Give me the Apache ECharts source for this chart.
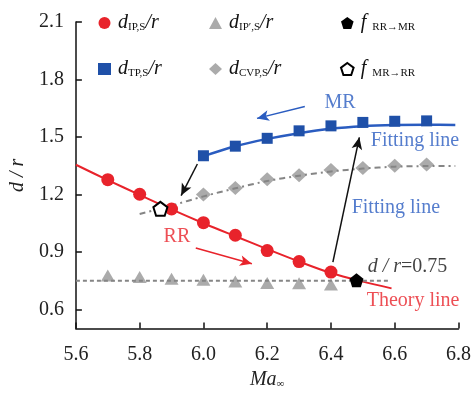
<!DOCTYPE html>
<html>
<head>
<meta charset="utf-8">
<script src="https://cdn.jsdelivr.net/npm/echarts@6/dist/echarts.min.js"></script>
<style>
  html, body { margin: 0; padding: 0; background: #fff; }
  #chart { width: 474px; height: 395px; }
</style>
</head>
<body>
<div id="chart"></div>
<script>
// Mach numbers and normalised distances d/r
const maIP = [5.7, 5.8, 5.9, 6.0, 6.1, 6.2, 6.3, 6.4];
const dIP = [1.277, 1.201, 1.124, 1.053, 0.987, 0.907, 0.850, 0.795];
const dIPp = [0.777, 0.769, 0.760, 0.755, 0.746, 0.738, 0.737, 0.730];

const maTP = [6.0, 6.1, 6.2, 6.3, 6.4, 6.5, 6.6, 6.7];
const dTP = [1.402, 1.452, 1.493, 1.532, 1.558, 1.576, 1.582, 1.584];
const dCVP = [1.200, 1.234, 1.280, 1.300, 1.328, 1.338, 1.350, 1.357];

// transition points
const fRR = [6.48, 0.752];
const fMR = [5.865, 1.125];

// theory line for d_IP,S / r
const theoryMa = [5.6, 5.7, 5.8, 5.9, 6.0, 6.1, 6.2, 6.3, 6.4, 6.5, 6.59];
const theoryD = [1.355, 1.275, 1.198, 1.122, 1.05, 0.982, 0.915, 0.85, 0.79, 0.745, 0.71];

// fitting lines
const fitTPma = [6.0, 6.1, 6.2, 6.3, 6.4, 6.5, 6.6, 6.7, 6.79];
const fitTPd = [1.40, 1.452, 1.49, 1.52, 1.543, 1.556, 1.562, 1.564, 1.563];
const fitCVPma = [5.8, 5.9, 6.0, 6.1, 6.2, 6.3, 6.4, 6.5, 6.6, 6.7, 6.79];
const fitCVPd = [1.098, 1.142, 1.19, 1.232, 1.27, 1.298, 1.32, 1.335, 1.345, 1.348, 1.348];

// d/r = 0.75 reference
const refMa = [5.6, 6.58];
const refD = 0.75;

const yTicks = [0.6, 0.9, 1.2, 1.5, 1.8, 2.1];

const RED = '#e8232b';
const BLUE = '#1f50a8';
const BLUE_LINE = '#2a5cc0';
const GREY = '#ababab';
const GREY_LINE = '#858585';
const SERIF = '"Liberation Serif", "Times New Roman", serif';

const zip = (xs, ys) => xs.map((x, i) => [x, ys[i]]);
const pentagon = 'path://M0,-10L9.51,-3.09L5.88,8.09L-5.88,8.09L-9.51,-3.09Z';

const legendRich = {
  i: { fontFamily: SERIF, fontStyle: 'italic', fontSize: 20, color: '#111', lineHeight: 22 },
  s: { fontFamily: SERIF, fontSize: 11, color: '#111', padding: [9, 0, 0, 0], lineHeight: 22 },
  g: { fontFamily: SERIF, fontSize: 11, color: '#111', padding: [9, 0, 0, 6], lineHeight: 22 }
};
const legendText = {
  'IP': '{i|d}{s|IP,S}{i|/r}',
  'IPp': '{i|d}{s|IP′,S}{i|/r}',
  'TP': '{i|d}{s|TP,S}{i|/r}',
  'CVP': '{i|d}{s|CVP,S}{i|/r}',
  'fRR': '{i|f}{g|RR→MR}',
  'fMR': '{i|f}{g|MR→RR}'
};
function legendAt(left, names) {
  return {
    left: left, top: 8, orient: 'vertical', itemGap: 26,
    itemWidth: 13, itemHeight: 12, selectedMode: false,
    data: names,
    formatter: n => legendText[n],
    textStyle: { rich: legendRich, padding: [0, 0, 0, 2] }
  };
}

const notes = [
  { value: [6.38, 1.677], text: '{b|MR}' },
  { value: [6.525, 1.48], text: '{b|Fitting line}' },
  { value: [6.465, 1.133], text: '{b|Fitting line}' },
  { value: [5.875, 0.977], text: '{r|RR}' },
  { value: [6.515, 0.822], text: '{i|d / r}{n|=0.75}' },
  { value: [6.512, 0.647], text: '{r|Theory line}' }
];

const arrow = (a, b, color) => [
  { coord: a, symbol: 'none', lineStyle: { color: color, width: 1.5, type: 'solid' } },
  { coord: b, symbol: 'arrow', symbolSize: [8, 12] }
];

const chart = echarts.init(document.getElementById('chart'), null, { renderer: 'canvas' });
chart.setOption({
  animation: false,
  backgroundColor: '#fff',
  grid: { left: 74, right: 14, top: 22, bottom: 65 },
  legend: [
    legendAt(93, ['IP', 'TP']),
    legendAt(204, ['IPp', 'CVP']),
    legendAt(335, ['fRR', 'fMR'])
  ],
  xAxis: {
    type: 'value', min: 5.6, max: 6.8, interval: 0.2,
    name: '{i|Ma}{s|∞}', nameLocation: 'middle', nameGap: 32,
    nameTextStyle: {
      rich: {
        i: { fontFamily: SERIF, fontStyle: 'italic', fontSize: 20, color: '#222' },
        s: { fontFamily: SERIF, fontSize: 11, color: '#222', padding: [10, 0, 0, 0] }
      }
    },
    axisLine: { lineStyle: { color: '#111', width: 1.5 } },
    axisTick: { inside: true, length: 6, lineStyle: { color: '#111', width: 1.5 } },
    splitLine: { show: false },
    axisLabel: { fontFamily: SERIF, fontSize: 20, color: '#222', margin: 16,
      formatter: v => v.toFixed(1) }
  },
  yAxis: {
    type: 'value', min: 0.5, max: 2.1,
    name: 'd / r', nameLocation: 'middle', nameGap: 44, nameRotate: 90,
    nameTextStyle: { fontFamily: SERIF, fontStyle: 'italic', fontSize: 20, color: '#222' },
    axisLine: { show: true, lineStyle: { color: '#111', width: 1.5 } },
    axisTick: { show: true, inside: true, length: 6, customValues: yTicks,
      lineStyle: { color: '#111', width: 1.5 } },
    splitLine: { show: false },
    axisLabel: { fontFamily: SERIF, fontSize: 20, color: '#222', margin: 12,
      customValues: yTicks, formatter: v => v.toFixed(1) }
  },
  series: [
    {
      name: 'theory', type: 'line', data: zip(theoryMa, theoryD), smooth: 0.3,
      showSymbol: false, lineStyle: { color: RED, width: 2 }, z: 3, silent: true
    },
    {
      name: 'fitTP', type: 'line', data: zip(fitTPma, fitTPd), smooth: 0.3,
      showSymbol: false, lineStyle: { color: BLUE_LINE, width: 2.5 }, z: 3, silent: true
    },
    {
      name: 'fitCVP', type: 'line', data: zip(fitCVPma, fitCVPd), smooth: 0.3,
      showSymbol: false, lineStyle: { color: GREY_LINE, width: 2, type: [6, 4, 2, 4] }, z: 4, silent: true
    },
    {
      name: 'ref', type: 'line', data: refMa.map(x => [x, refD]),
      showSymbol: false, lineStyle: { color: GREY_LINE, width: 2, type: [4, 3] }, z: 4, silent: true
    },
    {
      name: 'IP', type: 'scatter', data: zip(maIP, dIP), symbol: 'circle', symbolSize: 13,
      itemStyle: { color: RED, opacity: 1 }, z: 5
    },
    {
      name: 'IPp', type: 'scatter', data: zip(maIP, dIPp), symbol: 'triangle', symbolSize: [14, 12],
      itemStyle: { color: GREY, opacity: 1 }, z: 2
    },
    {
      name: 'TP', type: 'scatter', data: zip(maTP, dTP), symbol: 'rect', symbolSize: 11,
      itemStyle: { color: BLUE, opacity: 1 }, z: 5
    },
    {
      name: 'CVP', type: 'scatter', data: zip(maTP, dCVP), symbol: 'diamond', symbolSize: [15, 14],
      itemStyle: { color: GREY, opacity: 1 }, z: 2
    },
    {
      name: 'fRR', type: 'scatter', data: [fRR], symbol: pentagon, symbolSize: 14,
      itemStyle: { color: '#000', opacity: 1 }, z: 6
    },
    {
      name: 'fMR', type: 'scatter', data: [fMR], symbol: pentagon, symbolSize: 14,
      itemStyle: { color: '#fff', borderColor: '#000', borderWidth: 2, opacity: 1 }, z: 6
    },
    {
      name: 'notes', type: 'scatter', symbolSize: 0, silent: true, z: 7,
      data: notes.map(n => ({ value: n.value, text: n.text })),
      label: {
        show: true, position: 'right', distance: 0,
        formatter: p => p.data.text,
        rich: {
          b: { fontFamily: SERIF, fontSize: 20, color: BLUE_LINE },
          r: { fontFamily: SERIF, fontSize: 20, color: RED },
          i: { fontFamily: SERIF, fontStyle: 'italic', fontSize: 20, color: '#111' },
          n: { fontFamily: SERIF, fontSize: 20, color: '#111' }
        }
      },
      markLine: {
        silent: true, symbol: ['none', 'arrow'], label: { show: false },
        emphasis: { disabled: true },
        data: [
          arrow([6.318, 1.659], [6.168, 1.597], BLUE_LINE),
          arrow([6.406, 0.847], [6.489, 1.498], '#111'),
          arrow([5.981, 1.359], [5.93, 1.194], '#111'),
          arrow([5.976, 0.921], [6.152, 0.838], RED)
        ]
      }
    }
  ]
});
</script>
</body>
</html>
